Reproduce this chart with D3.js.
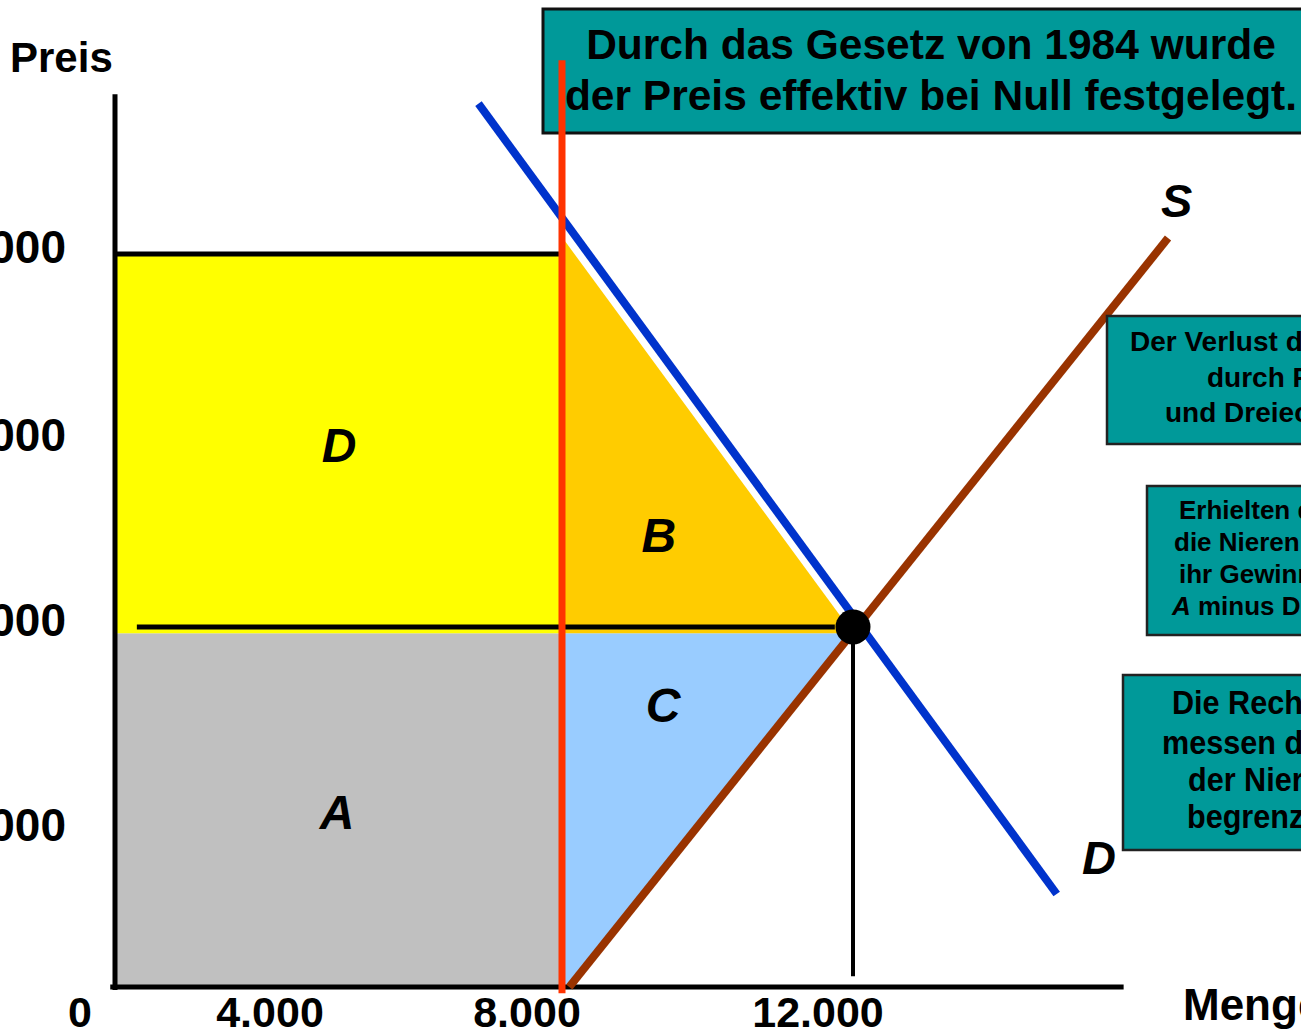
<!DOCTYPE html>
<html>
<head>
<meta charset="utf-8">
<script src="https://cdn.jsdelivr.net/npm/d3@7"></script>
<style>
  html, body { margin: 0; padding: 0; background: #fff; overflow: hidden; }
  svg { display: block; }
  text { font-family: "Liberation Sans", Arial, Helvetica, sans-serif; font-weight: bold; fill: #000; }
</style>
</head>
<body>
<svg id="chart" width="1301" height="1033"></svg>
<script>
// ---------- data ----------
const quantityTicks = [0, 4000, 8000, 12000];
const quantityTickLabels = ["0", "4.000", "8.000", "12.000"];
const priceTicks = [10000, 20000, 30000, 40000];
const priceTickLabels = ["$10.000", "$20.000", "$30.000", "$40.000"];

const demandCurve = [[6700, 48000], [14800, 6000]];
const supplyCurve = [[8100, 0], [16330, 40850]];

const quotaQuantity = 8000;      // kidneys still donated
const equilibriumQuantity = 12000;
const equilibriumPrice = 20000;
const ceilingPrice = 40000;      // value with constrained supply
const splitPrice = 19700;        // lower edge of the coloured areas
const demandAtQuota = 40900;     // top of triangle B

const areaA = [[0, 0], [quotaQuantity, 0], [quotaQuantity, splitPrice], [0, splitPrice]];
const areaD = [[0, splitPrice], [quotaQuantity, splitPrice], [quotaQuantity, ceilingPrice], [0, ceilingPrice]];
const areaB = [[quotaQuantity, demandAtQuota], [quotaQuantity, splitPrice], [12000, splitPrice]];
const areaC = [[quotaQuantity, splitPrice], [12050, splitPrice], [8050, 0], [quotaQuantity, 0]];

const areaLabels = ["D", "B", "C", "A"];
const areaLabelPoints = [[4530, 29840], [9330, 25000], [9390, 16200], [4500, 11000]];
const curveLabels = ["S", "D"];
const curveLabelPoints = [[16450, 42870], [15380, 8390]];

const titleLines = ["Durch das Gesetz von 1984 wurde", "der Preis effektiv bei Null festgelegt."];
const note1Lines = ["Der Verlust der Anbieter wird", "durch Rechteck A", "und Dreieck C gemessen."];
const note2Lines = ["Erhielten die Empfänger", "die Nieren kostenlos, wäre", "ihr Gewinn", "A minus D."];
const note3Lines = ["Die Rechtecke D und B", "messen den Wert", "der Nieren bei", "begrenztem Angebot."];

// ---------- scales ----------
const x = d3.scaleLinear()
  .domain([0, 4000, 8000, 12000])
  .range([115, 305, 562, 853]);
const y = d3.scaleLinear()
  .domain([0, 10000, 20000, 30000, 40000])
  .range([987, 832, 627, 442, 254]);

const svg = d3.select("#chart");
const poly = pts => pts.map(p => [x(p[0]), y(p[1])].join(",")).join(" ");
const line = d3.line().x(d => x(d[0])).y(d => y(d[1]));

// ---------- areas ----------
svg.append("polygon").attr("points", poly(areaA)).attr("fill", "#C0C0C0");
svg.append("polygon").attr("points", poly(areaD)).attr("fill", "#FFFF00");
svg.append("polygon").attr("points", poly(areaC)).attr("fill", "#99CCFF");
svg.append("polygon").attr("points", poly(areaB)).attr("fill", "#FFCC00");

// ---------- horizontal guide lines ----------
svg.append("path").attr("d", line([[0, ceilingPrice], [quotaQuantity, ceilingPrice]]))
  .attr("stroke", "#000").attr("stroke-width", 5).attr("fill", "none");
svg.append("path").attr("d", line([[460, equilibriumPrice], [11750, equilibriumPrice]]))
  .attr("stroke", "#000").attr("stroke-width", 5).attr("fill", "none");
svg.append("path").attr("d", line([[equilibriumQuantity, equilibriumPrice], [equilibriumQuantity, 700]]))
  .attr("stroke", "#000").attr("stroke-width", 4).attr("fill", "none");

// ---------- axes ----------
svg.append("path").attr("d", line([[-100, 0], [15720, 0]]))
  .attr("stroke", "#000").attr("stroke-width", 5).attr("fill", "none");
svg.append("path").attr("d", line([[0, -200], [0, 48500]]))
  .attr("stroke", "#000").attr("stroke-width", 5).attr("fill", "none");

// ---------- curves ----------
svg.append("path").attr("d", line(supplyCurve))
  .attr("stroke", "#993300").attr("stroke-width", 8).attr("fill", "none");
svg.append("path").attr("d", line(demandCurve))
  .attr("stroke", "#0033CC").attr("stroke-width", 8).attr("fill", "none");

// ---------- title box ----------
svg.append("rect").attr("x", 543).attr("y", 9).attr("width", 800).attr("height", 124)
  .attr("fill", "#009999").attr("stroke", "#111").attr("stroke-width", 3);
svg.selectAll("text.title").data(titleLines).enter().append("text")
  .attr("class", "title")
  .attr("x", 931).attr("y", (d, i) => 59 + i * 51)
  .attr("text-anchor", "middle").attr("font-size", 42.5)
  .text(d => d);

// ---------- quota line (red) ----------
svg.append("path").attr("d", line([[quotaQuantity, -400], [quotaQuantity, 50300]]))
  .attr("stroke", "#FF3300").attr("stroke-width", 7).attr("fill", "none");

// ---------- equilibrium point ----------
svg.append("circle").attr("cx", x(equilibriumQuantity)).attr("cy", y(equilibriumPrice))
  .attr("r", 17.5).attr("fill", "#000");

// ---------- tick labels ----------
svg.selectAll("text.xt").data(quantityTicks).enter().append("text")
  .attr("class", "xt")
  .attr("x", d => x(d) - 35).attr("y", 1027)
  .attr("text-anchor", "middle").attr("font-size", 43)
  .text((d, i) => quantityTickLabels[i]);
svg.selectAll("text.yt").data(priceTicks).enter().append("text")
  .attr("class", "yt")
  .attr("x", 66).attr("y", d => y(d) + 9)
  .attr("text-anchor", "end").attr("font-size", 46)
  .text((d, i) => priceTickLabels[i]);

// ---------- axis titles ----------
svg.append("text").attr("x", 10).attr("y", 72).attr("font-size", 42).text("Preis");
svg.append("text").attr("x", 1183).attr("y", 1020).attr("font-size", 44).text("Menge");

// ---------- area & curve labels ----------
svg.selectAll("text.al").data(areaLabels).enter().append("text")
  .attr("class", "al")
  .attr("x", (d, i) => x(areaLabelPoints[i][0]))
  .attr("y", (d, i) => y(areaLabelPoints[i][1]) + 17)
  .attr("text-anchor", "middle").attr("font-size", 48).attr("font-style", "italic")
  .text(d => d);
svg.selectAll("text.cl").data(curveLabels).enter().append("text")
  .attr("class", "cl")
  .attr("x", (d, i) => x(curveLabelPoints[i][0]))
  .attr("y", (d, i) => y(curveLabelPoints[i][1]) + 17)
  .attr("text-anchor", "middle").attr("font-size", 47).attr("font-style", "italic")
  .text(d => d);

// ---------- note boxes ----------
function noteBox(box, lines, starts, baselines, size, squeeze) {
  svg.append("rect").attr("x", box[0]).attr("y", box[1]).attr("width", 400).attr("height", box[2])
    .attr("fill", "#009999").attr("stroke", "#222").attr("stroke-width", 2.5);
  const g = svg.append("g");
  lines.forEach((t, i) => {
    const tx = g.append("text")
      .attr("transform", `translate(${starts[i]},${baselines[i]}) scale(${squeeze},1)`)
      .attr("font-size", size);
    if (t.startsWith("A minus")) {
      tx.append("tspan").attr("font-style", "italic").text("A");
      tx.append("tspan").text(t.slice(1));
    } else {
      tx.text(t);
    }
  });
}
noteBox([1107, 316, 128], note1Lines, [1130, 1207, 1165], [351, 387, 422], 28, 1);
noteBox([1147, 486, 149], note2Lines, [1179, 1174, 1179, 1172], [519, 551, 583, 615], 26, 1);
noteBox([1123, 675, 175], note3Lines, [1172, 1162, 1188, 1187], [714, 754, 791, 828], 34, 0.9);
</script>
</body>
</html>
